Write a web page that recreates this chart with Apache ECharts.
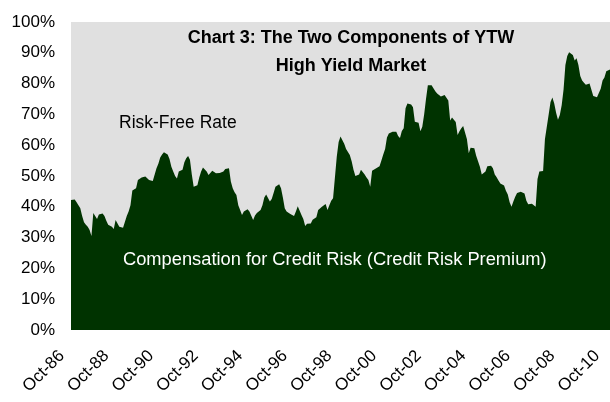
<!DOCTYPE html>
<html>
<head>
<meta charset="utf-8">
<script src="https://cdn.jsdelivr.net/npm/echarts@6/dist/echarts.min.js"></script>
<style>
  html, body { margin: 0; padding: 0; background: #fff; }
  #chart { width: 610px; height: 402px; }
</style>
</head>
<body>
<div id="chart"></div>
<script>
  // monthly, Oct-86 .. Dec-10, share of YTW that is credit risk premium (%)
  var premium = [
    42.2, 42.3, 42.4, 41.5, 41.0, 39.5, 37.0, 35.0, 34.2, 33.5, 32.5, 30.5,
    38.0, 38.0, 36.0, 37.5, 38.0, 37.8, 37.0, 35.5, 34.2, 33.8, 33.5, 32.8,
    35.7, 36.0, 33.5, 33.3, 33.2, 33.5, 37.0, 38.5, 40.5, 45.3, 44.9, 46.0,
    48.7, 49.2, 49.5, 49.8, 49.8, 49.8, 48.7, 48.5, 48.4, 48.2, 52.5, 54.0,
    56.0, 57.0, 57.7, 58.0, 57.0, 55.5, 53.0, 51.5, 50.0, 49.2, 51.5, 51.8,
    52.0, 54.5, 55.8, 56.5, 55.3, 50.5, 46.5, 46.3, 47.0, 49.5, 51.5, 52.8,
    52.8, 51.5, 50.3, 50.3, 51.7, 51.2, 50.9, 50.9, 51.0, 51.2, 51.5, 52.3,
    52.8, 52.5, 48.2, 46.0, 44.7, 43.8, 40.5, 39.0, 37.3, 38.5, 39.0, 39.2,
    38.5, 37.9, 35.7, 37.2, 38.0, 38.5, 39.0, 40.5, 43.0, 44.0, 44.0, 41.7,
    42.5, 44.5, 46.5, 47.0, 47.3, 46.0, 43.0, 39.5, 38.5, 38.0, 37.7, 37.3,
    37.0, 38.5, 40.2, 40.3, 37.3, 36.0, 33.8, 34.5, 34.6, 34.6, 35.8, 36.3,
    36.6, 39.0, 39.2, 40.0, 40.6, 40.9, 39.0, 40.5, 42.0, 42.8, 43.3, 56.3,
    61.0, 62.8, 63.0, 60.5, 58.8, 58.4, 56.8, 54.8, 52.0, 50.0, 49.9, 50.5,
    52.0, 51.6, 50.5, 49.5, 48.7, 46.5, 51.7, 52.0, 52.4, 52.8, 53.2, 55.0,
    57.0, 58.8, 62.5, 63.8, 64.4, 64.4, 64.4, 64.4, 63.0, 62.3, 64.6, 65.5,
    72.0, 73.5, 73.8, 73.2, 72.3, 67.6, 67.6, 67.3, 64.5, 66.0, 70.0, 75.0,
    79.5, 79.8, 79.5, 78.5, 77.5, 76.8, 76.3, 75.8, 76.0, 76.3, 75.9, 74.5,
    68.0, 69.0, 68.5, 67.5, 63.3, 64.5, 65.5, 66.2, 66.0, 62.0, 57.4, 59.2,
    59.1, 59.0, 56.6, 56.3, 53.0, 50.5, 50.0, 51.5, 53.2, 53.6, 53.3, 52.5,
    50.5, 49.6, 48.5, 47.6, 47.6, 46.9, 45.2, 44.0, 41.5, 40.0, 41.7, 43.3,
    44.5, 44.9, 44.9, 44.4, 44.3, 42.0, 40.8, 41.1, 41.0, 40.5, 40.0, 49.0,
    51.5, 52.0, 51.6, 62.0, 66.0, 70.0, 74.0, 75.5, 73.5, 70.5, 68.3, 69.8,
    73.0, 78.0, 86.0, 89.0, 90.2, 90.4, 89.3, 87.5, 88.2, 86.0, 82.5, 81.0,
    80.3, 79.6, 79.2, 80.0, 79.6, 76.0, 75.8, 75.6, 75.0, 78.3, 81.0, 82.0,
    84.0, 84.5, 84.6
  ];
  var monthNames = ['Jan', 'Feb', 'Mar', 'Apr', 'May', 'Jun', 'Jul', 'Aug', 'Sep', 'Oct', 'Nov', 'Dec'];
  var startYear = 1986, startMonth = 9; // Oct-86

  var months = [];
  for (var i = 0; i < premium.length; i++) {
    var m = startMonth + i;
    var yy = (startYear + Math.floor(m / 12)) % 100;
    months.push(monthNames[m % 12] + '-' + (yy < 10 ? '0' + yy : '' + yy));
  }

  var font = '"Liberation Sans", Arial, sans-serif';
  var myChart = echarts.init(document.getElementById('chart'));
  var option = {
    animation: false,
    backgroundColor: '#fff',
    title: {
      text: 'Chart 3: The Two Components of YTW\nHigh Yield Market',
      left: 346,
      top: 19,
      textAlign: 'center',
      textStyle: {
        fontFamily: font,
        fontSize: 18,
        fontWeight: 'bold',
        color: '#000',
        lineHeight: 28
      }
    },
    grid: {
      left: 71,
      right: 0,
      top: 22,
      bottom: 72,
      outerBoundsMode: 'none',
      containLabel: false,
      show: true,
      backgroundColor: '#e0e0e0',
      borderWidth: 0
    },
    xAxis: {
      type: 'category',
      data: months,
      boundaryGap: false,
      axisLine: { show: false },
      axisTick: { show: false },
      splitLine: { show: false },
      axisLabel: {
        interval: 23,
        rotate: 45,
        margin: 14,
        padding: [0, 13, 0, 0],
        color: '#000',
        fontFamily: font,
        fontSize: 17
      }
    },
    yAxis: {
      type: 'value',
      min: 0,
      max: 100,
      interval: 10,
      axisLine: { show: false },
      axisTick: { show: false },
      splitLine: { show: false },
      axisLabel: {
        formatter: '{value}%',
        margin: 16,
        color: '#000',
        fontFamily: font,
        fontSize: 17
      }
    },
    series: [
      {
        name: 'Compensation for Credit Risk',
        type: 'line',
        data: premium,
        symbol: 'none',
        lineStyle: { width: 0 },
        areaStyle: { color: '#003300', opacity: 1 }
      }
    ],
    graphic: [
      {
        type: 'text',
        z: 100,
        style: {
          text: 'Risk-Free Rate',
          x: 119,
          y: 123,
          verticalAlign: 'middle',
          fill: '#000',
          font: '17.5px ' + font
        }
      },
      {
        type: 'text',
        z: 100,
        style: {
          text: 'Compensation for Credit Risk (Credit Risk Premium)',
          x: 123,
          y: 260,
          verticalAlign: 'middle',
          fill: '#fff',
          font: '18.3px ' + font
        }
      }
    ]
  };
  myChart.setOption(option);
</script>
</body>
</html>
